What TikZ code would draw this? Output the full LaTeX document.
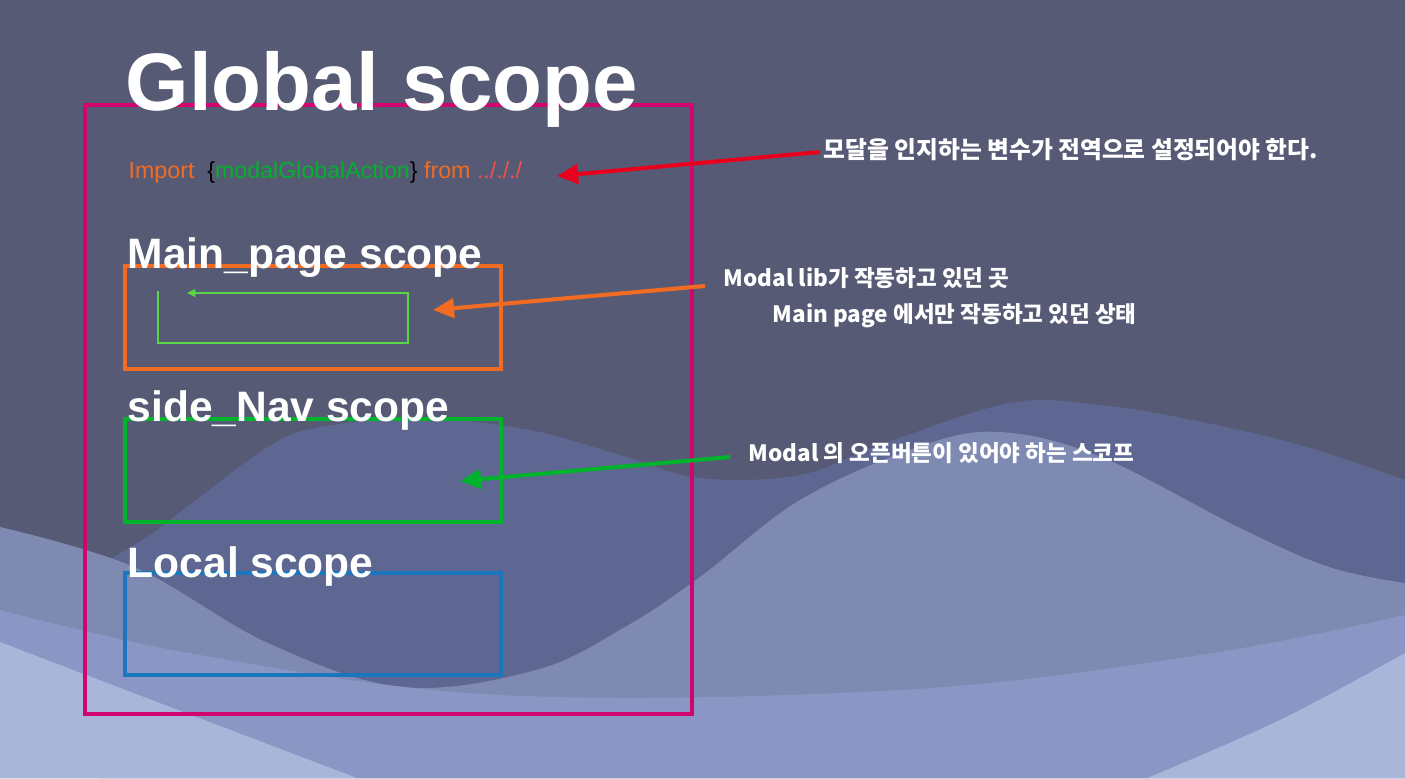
\documentclass[tikz,border=0pt]{standalone}
\usepackage{fontspec}
\setmainfont{Liberation Sans}
\newfontfamily\kr{Noto Sans CJK KR}
\usetikzlibrary{arrows.meta, positioning}

\definecolor{bgDark}{HTML}{575A74}
\definecolor{waveMid}{HTML}{5D6791}
\definecolor{waveLight}{HTML}{7F8AB2}
\definecolor{waveLighter}{HTML}{8A96C3}
\definecolor{waveLightest}{HTML}{A9B6DA}
\definecolor{globalPink}{HTML}{D2046E}
\definecolor{mainOrange}{HTML}{F26B22}
\definecolor{navGreen}{HTML}{00B32C}
\definecolor{localBlue}{HTML}{1A77BF}
\definecolor{noteRed}{HTML}{E8001E}
\definecolor{loopGreen}{HTML}{5CD447}
\definecolor{pathRed}{HTML}{F0524F}

\begin{document}
\begin{tikzpicture}[
  x=0.01cm, y=-0.01cm,
  title/.style={text=white, inner sep=0pt, anchor=base west, font=\fontsize{12.1}{14}\selectfont\bfseries},
  note/.style={text=white, inner sep=0pt, anchor=west, font=\kr\bfseries\fontsize{6.4}{7.5}\selectfont},
  scopebox/.style={line width=1.15pt},
  pointer/.style={-{Triangle[length=6pt, width=5.5pt]}, line width=1.15pt},
  loop/.style={-{Triangle[length=2.4pt, width=2.2pt]}, line width=0.5pt, loopGreen}
]
  % Background waves
  \fill[bgDark] (0,0) rectangle (1405,778);
  \fill[waveMid] plot[smooth, tension=0.6] coordinates {(100,565) (150,535) (187,507) (268,447) (321,427)
    (420,418) (530,430) (620,455) (700,478) (800,475) (880,445) (1010,403) (1100,405) (1192,420)
    (1300,445) (1405,480)} -- (1405,778) -- (100,778) -- cycle;
  \fill[waveLight] plot[smooth, tension=0.6] coordinates {(0,527) (134,567) (268,643) (402,687) (536,670)
    (625,627) (700,577) (800,500) (918,447) (1000,432) (1101,457) (1238,527) (1329,567) (1405,583)}
    -- (1405,778) -- (0,778) -- cycle;
  \fill[waveLighter] plot[smooth, tension=0.6] coordinates {(0,610) (200,655) (500,695) (900,690)
    (1200,655) (1405,615)} -- (1405,778) -- (0,778) -- cycle;
  \fill[waveLightest] plot[smooth, tension=0.6] coordinates {(0,642) (178,710) (357,778)} -- (0,778) -- cycle;
  \fill[waveLightest] plot[smooth, tension=0.6] coordinates {(1147,778) (1280,720) (1405,653)} -- (1405,778) -- cycle;
  \useasboundingbox (0,0) rectangle (1405,778);

  % Scope boxes
  \draw[scopebox, globalPink] (85,105) rectangle (692,714);
  \draw[scopebox, mainOrange] (125,266) rectangle (501,369);
  \draw[scopebox, navGreen] (125,419) rectangle (501,522);
  \draw[scopebox, localBlue] (125,573) rectangle (501,675);

  % Titles
  \node[title, font=\fontsize{23.2}{26}\selectfont\bfseries] (globalTitle) at (125,110) {Global scope};
  \node[title] (mainTitle) at (127,268) {Main\_page scope};
  \node[title] (navTitle) at (127,421) {side\_Nav scope};
  \node[title] (localTitle) at (127,577) {Local scope};

  % Import line
  \node[inner sep=0pt, anchor=base west, font=\fontsize{6.6}{8}\selectfont] (importLine) at (128,178)
    {\textcolor{mainOrange}{Import}\ \ {\{}\textcolor{navGreen}{modalGlobalAction}{\}} \textcolor{mainOrange}{from} \textcolor{pathRed}{../././}};

  % Loop inside main page
  \coordinate (loopStart) at (158,291);
  \coordinate (loopEnd) at (187,293);
  \draw[loop] (loopStart) |- (408,343) |- (loopEnd);

  % Notes
  \node[note, font=\kr\bfseries\fontsize{6.75}{8}\selectfont] (globalNote) at (823,150) {모달을 인지하는 변수가 전역으로 설정되어야 한다.};
  \node[note] (libNote) at (723,278) {Modal lib가 작동하고 있던 곳};
  \node[note] (mainNote) at (772,316) {Main page 에서만 작동하고 있던 상태};
  \node[note] (navNote) at (748,453) {Modal 의 오픈버튼이 있어야 하는 스코프};

  % Arrows
  \coordinate (globalTip) at (557,176);
  \coordinate (mainTip) at (433,310);
  \coordinate (navTip) at (460,481);
  \draw[pointer, noteRed] ([shift={(-3,2)}]globalNote.west) -- (globalTip);
  \draw[pointer, mainOrange] ([shift={(-18,8)}]libNote.west) -- (mainTip);
  \draw[pointer, navGreen] ([shift={(-18,4)}]navNote.west) -- (navTip);
\end{tikzpicture}
\end{document}
